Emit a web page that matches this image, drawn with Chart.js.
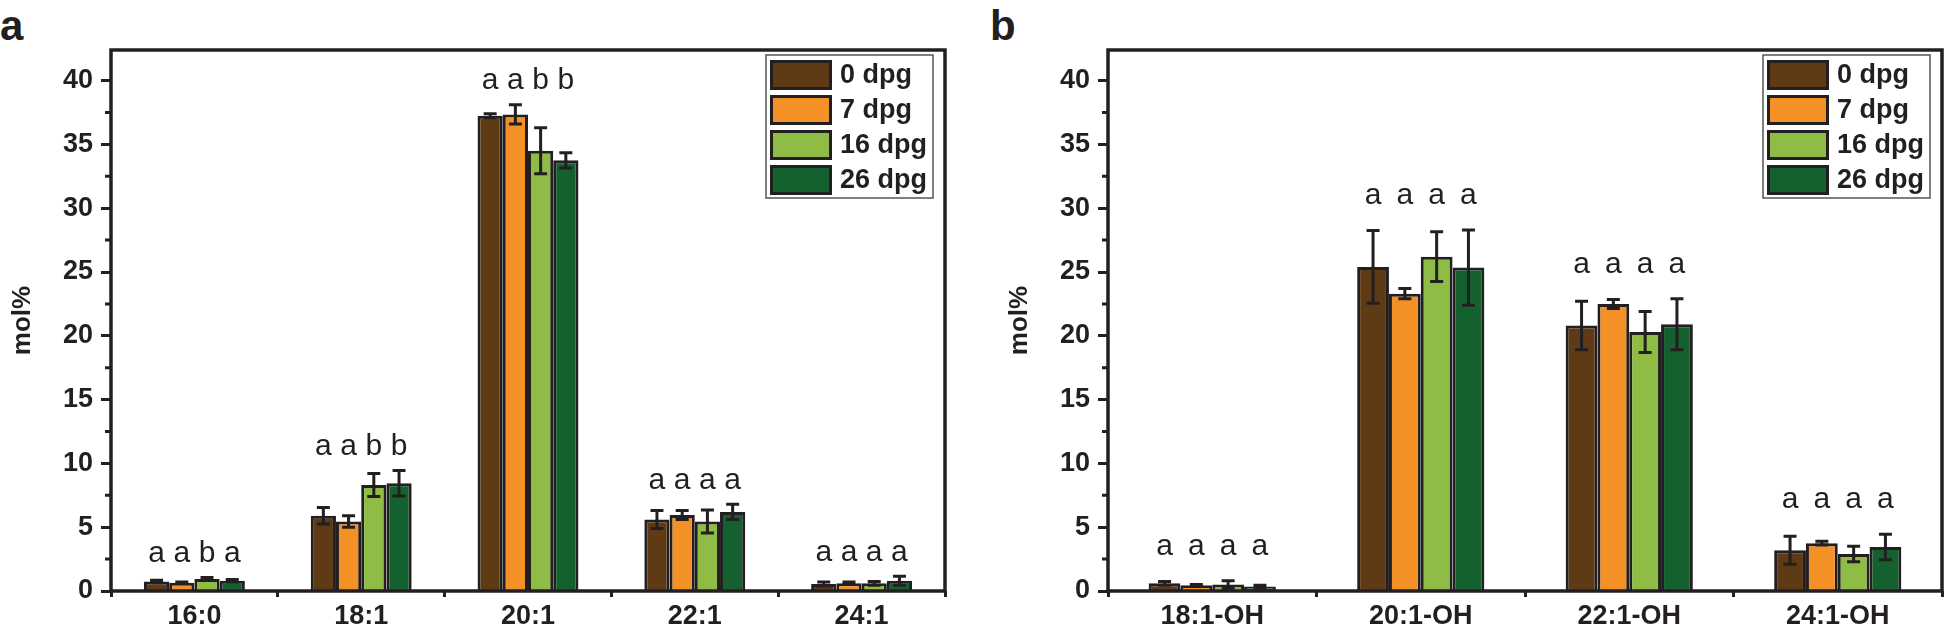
<!DOCTYPE html>
<html>
<head>
<meta charset="utf-8">
<script src="https://cdn.jsdelivr.net/npm/chart.js@4.4.0/dist/chart.umd.min.js"></script>
<style>
  body { margin: 0; background: #fff; width: 1946px; height: 630px; overflow: hidden; position: relative; }
  canvas { position: absolute; top: 0; }
  .tag { position: absolute; top: 2px; line-height: 42px; font: bold 42px "Liberation Sans", Arial, sans-serif; color: #231f20; }
</style>
</head>
<body>
<div class="tag" style="left:0">a</div>
<div class="tag" style="left:990px">b</div>
<canvas id="chartA" width="960" height="630" style="left:0"></canvas>
<canvas id="chartB" width="949" height="630" style="left:997px"></canvas>
<script>
// series (days post germination)
const series = ['0 dpg', '7 dpg', '16 dpg', '26 dpg'];
const colors = ['#5e3b15', '#f39127', '#8fbc44', '#14602f'];
const edge = '#231f20';

// panel a - fatty acids
const catsA = ['16:0', '18:1', '20:1', '22:1', '24:1'];
const d0A  = [0.75, 5.9, 37.25, 5.6, 0.55];
const d7A  = [0.65, 5.45, 37.35, 5.95, 0.6];
const d16A = [0.95, 8.3, 34.5, 5.45, 0.6];
const d26A = [0.8, 8.45, 33.75, 6.2, 0.8];
const e0A  = [0.1, 0.65, 0.15, 0.7, 0.15];
const e7A  = [0.05, 0.45, 0.75, 0.35, 0.1];
const e16A = [0.1, 0.9, 1.8, 0.9, 0.15];
const e26A = [0.1, 1.0, 0.6, 0.6, 0.35];
const lettersA = [['a', 'a', 'b', 'a'], ['a', 'a', 'b', 'b'], ['a', 'a', 'b', 'b'], ['a', 'a', 'a', 'a'], ['a', 'a', 'a', 'a']];

// panel b - fatty alcohols
const catsB = ['18:1-OH', '20:1-OH', '22:1-OH', '24:1-OH'];
const d0B  = [0.6, 25.4, 20.8, 3.2];
const d7B  = [0.45, 23.3, 22.5, 3.75];
const d16B = [0.5, 26.2, 20.3, 2.9];
const d26B = [0.35, 25.35, 20.9, 3.45];
const e0B  = [0.15, 2.85, 1.9, 1.1];
const e7B  = [0.05, 0.4, 0.35, 0.15];
const e16B = [0.3, 1.95, 1.6, 0.6];
const e26B = [0.1, 2.95, 2.0, 1.0];
const lettersB = [['a', 'a', 'a', 'a'], ['a', 'a', 'a', 'a'], ['a', 'a', 'a', 'a'], ['a', 'a', 'a', 'a']];

const yTicks = [0, 5, 10, 15, 20, 25, 30, 35, 40];
const yMax = 42.4;
const fam = '"Liberation Sans", Arial, sans-serif';

// error bars, significance letters, frame, minor ticks and legend
const extras = {
    id: 'extras',
    afterDatasetsDraw(chart, args, opts) {
        const { ctx, scales: { y } } = chart;
        ctx.save();
        ctx.strokeStyle = edge;
        ctx.lineWidth = 3;
        const tops = [];
        chart.data.datasets.forEach((ds, j) => {
            chart.getDatasetMeta(j).data.forEach((bar, i) => {
                const v = ds.data[i], e = opts.errs[j][i];
                const t = y.getPixelForValue(v + e), b = y.getPixelForValue(v - e);
                ctx.beginPath();
                ctx.moveTo(bar.x, t); ctx.lineTo(bar.x, b);
                ctx.moveTo(bar.x - 6.5, t); ctx.lineTo(bar.x + 6.5, t);
                ctx.moveTo(bar.x - 6.5, b); ctx.lineTo(bar.x + 6.5, b);
                ctx.stroke();
                tops[i] = Math.min(tops[i] ?? Infinity, t);
            });
        });
        ctx.fillStyle = edge;
        ctx.font = '30px ' + fam;
        ctx.textAlign = 'center';
        ctx.textBaseline = 'middle';
        chart.data.datasets.forEach((ds, j) => {
            chart.getDatasetMeta(j).data.forEach((bar, i) => {
                ctx.fillText(opts.letters[i][j], bar.x, tops[i] - opts.gap);
            });
        });
        ctx.restore();
    },
    afterDraw(chart) {
        const { ctx, chartArea: a, scales: { y } } = chart;
        ctx.save();
        ctx.strokeStyle = edge;
        ctx.lineWidth = 3.5;
        ctx.strokeRect(a.left, a.top, a.right - a.left, a.bottom - a.top);
        // minor y ticks
        ctx.lineWidth = 3;
        ctx.beginPath();
        for (let v = 2.5; v < yMax; v += 5) {
            const p = y.getPixelForValue(v);
            ctx.moveTo(a.left - 6, p); ctx.lineTo(a.left, p);
        }
        ctx.stroke();
        // legend box
        const bx = a.right - 179, by = a.top + 5;
        ctx.lineWidth = 1.5;
        ctx.strokeStyle = '#555';
        ctx.strokeRect(bx, by, 167, 143);
        ctx.font = 'bold 27px ' + fam;
        ctx.textAlign = 'left';
        ctx.textBaseline = 'middle';
        chart.data.datasets.forEach((ds, j) => {
            const sy = by + 5 + j * 35;
            ctx.fillStyle = ds.backgroundColor;
            ctx.fillRect(bx + 4, sy, 62, 30);
            ctx.lineWidth = 3;
            ctx.strokeStyle = edge;
            ctx.strokeRect(bx + 5.5, sy + 1.5, 59, 27);
            ctx.fillStyle = edge;
            ctx.fillText(ds.label, bx + 74, sy + 16);
        });
        ctx.restore();
    }
};

function drawPanel(id, cats, vals, errs, letters, catPct, padRight, gap) {
    new Chart(document.getElementById(id), {
        type: 'bar',
        data: {
            labels: cats,
            datasets: series.map((s, j) => ({
                label: s,
                data: vals[j],
                backgroundColor: colors[j],
                borderColor: edge,
                borderWidth: 3,
                categoryPercentage: catPct,
                barPercentage: 1
            }))
        },
        options: {
            responsive: false,
            animation: false,
            layout: { padding: { top: 50, right: padRight, left: 0, bottom: 0 } },
            plugins: {
                legend: { display: false },
                tooltip: { enabled: false },
                extras: { errs: errs, letters: letters, gap: gap }
            },
            scales: {
                x: {
                    offset: true,
                    grid: { offset: true, drawOnChartArea: false, tickLength: 6, tickWidth: 3, tickColor: edge },
                    border: { display: false },
                    ticks: { color: edge, padding: 3, maxRotation: 0, autoSkip: false, font: { family: fam, size: 27, weight: 'bold' } },
                    afterFit: sc => { sc.height = 39; }
                },
                y: {
                    min: 0,
                    max: yMax,
                    afterBuildTicks: sc => { sc.ticks = yTicks.map(v => ({ value: v })); },
                    grid: { drawOnChartArea: false, tickLength: 10, tickWidth: 3, tickColor: edge },
                    border: { display: false },
                    ticks: { color: edge, padding: 8, font: { family: fam, size: 27, weight: 'bold' } },
                    title: { display: true, text: 'mol%', color: edge, padding: { top: 7, bottom: 0 }, font: { family: fam, size: 26, weight: 'bold' } },
                    afterFit: sc => { sc.width = 111; }
                }
            }
        },
        plugins: [extras]
    });
}

drawPanel('chartA', catsA, [d0A, d7A, d16A, d26A], [e0A, e7A, e16A, e26A], lettersA, 0.605, 15, 24);
drawPanel('chartB', catsB, [d0B, d7B, d16B, d26B], [e0B, e7B, e16B, e26B], lettersB, 0.61, 4, 34);
</script>
</body>
</html>
